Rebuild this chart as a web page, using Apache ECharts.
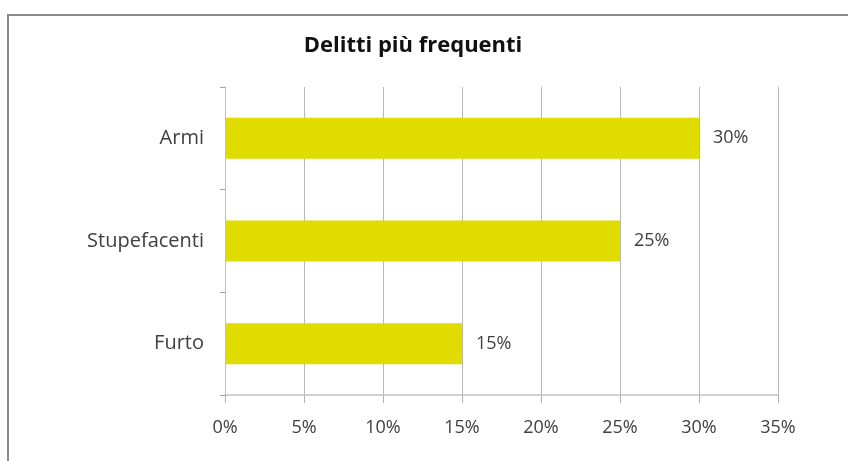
<!DOCTYPE html>
<html>
<head>
<meta charset="utf-8">
<script src="https://cdn.jsdelivr.net/npm/echarts@6/dist/echarts.min.js"></script>
<style>
  html, body { margin: 0; padding: 0; background: #fff; }
  #chart { width: 848px; height: 461px; }
</style>
</head>
<body>
<div id="chart"></div>
<script>
// dati
const categories = ['Armi', 'Stupefacenti', 'Furto'];
const values = [30, 25, 15];
const axisMax = 35;
const axisStep = 5;

const myChart = echarts.init(document.getElementById('chart'));

myChart.setOption({
  animation: false,
  textStyle: { fontFamily: 'Open Sans' },
  title: {
    text: 'Delitti più frequenti',
    left: 408,
    top: 30,
    textAlign: 'center',
    textStyle: { fontSize: 22, fontWeight: 'bold', color: '#111', fontFamily: 'Open Sans' }
  },
  // cornice grigia del grafico
  graphic: [{
    type: 'rect',
    shape: { x: 8, y: 15, width: 900, height: 500 },
    style: { fill: 'none', stroke: '#8a8a8a', lineWidth: 2 },
    silent: true
  }],
  grid: {
    left: 225,
    right: 70,
    top: 87,
    bottom: 66
  },
  xAxis: {
    type: 'value',
    min: 0,
    max: axisMax,
    interval: axisStep,
    axisLine: { show: true, lineStyle: { color: '#d0d0d0', width: 2 } },
    axisTick: { show: true, length: 8, lineStyle: { color: '#b0b0b0' } },
    axisLabel: { formatter: '{value}%', color: '#404040', fontSize: 18, margin: 24 },
    splitLine: { show: true, lineStyle: { color: '#b8b8b8', width: 1 } }
  },
  yAxis: {
    type: 'category',
    data: categories,
    inverse: true,
    axisLine: { show: true, lineStyle: { color: '#c0c0c0', width: 1 } },
    axisTick: { show: true, length: 5, lineStyle: { color: '#a0a0a0' } },
    axisLabel: { color: '#404040', fontSize: 20, margin: 21 }
  },
  series: [{
    type: 'bar',
    data: values,
    barWidth: '40%',
    itemStyle: { color: '#e0dc00' },
    label: {
      show: true,
      position: 'right',
      distance: 14,
      formatter: '{c}%',
      color: '#404040',
      fontSize: 18
    }
  }]
});
</script>
</body>
</html>
